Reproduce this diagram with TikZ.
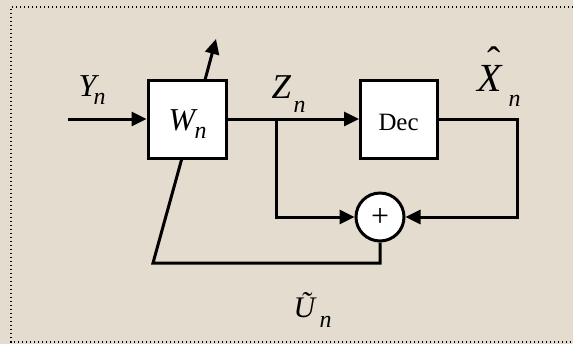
\documentclass[tikz,border=0pt]{standalone}
\usepackage{fontspec}
\setmainfont{Liberation Serif}
\usetikzlibrary{arrows.meta}
\definecolor{bg}{RGB}{227,220,207}
\begin{document}
\begin{tikzpicture}[x=1bp,y=-1bp,line width=3bp,
  blk/.style={draw,fill=white,minimum width=78bp,minimum height=78bp,inner sep=0pt},
  sumc/.style={draw,fill=white,circle,minimum size=48bp,inner sep=0pt,font=\fontsize{32}{32}\selectfont},
  arr/.style={-{Triangle[length=15bp,width=14bp]}},
  lbl/.style={font=\fontsize{32}{32}\selectfont\itshape,inner sep=0pt,anchor=base west},
  sub/.style={font=\fontsize{24}{24}\selectfont\itshape,inner sep=0pt,anchor=base west},
  frame/.style={line width=1.1bp,dash pattern=on 1.1bp off 2.9bp}]
\path[fill=bg] (0,0) rectangle (573,344);
\useasboundingbox (0,0) rectangle (573,344);
\draw[frame] (573,7) -- (11,7) -- (11,342) -- (573,342);
% blocks
\node[blk] (W) at (187,119) {};
\node[blk,minimum width=77bp] (D) at (399,119) {};
\node[sumc] (S) at (380,217) {+};
% coordinates
\coordinate (in) at (68,119);
\coordinate (J) at (276,119);
\coordinate (R) at (517,119);
\coordinate (B) at (153,263);
\coordinate (Wb) at (182,158);
\coordinate (Wt) at (205,80);
\coordinate (T) at (216,39);
% connectors
\draw[arr] (in) -- (W.west);
\draw (W.east) -- (J);
\draw[arr] (J) -- (D.west);
\draw[arr] (J) |- (S.west);
\draw[arr] (D.east) -- (R) |- (S.east);
\draw (S.south) |- (B) -- (Wb);
\draw[arr] (Wt) -- (T);
% labels
\node[lbl] (Y) at (77,96) {Y};
\node[sub] (Yn) at (92,104) {n};
\node[lbl] (Wl) at (167,130) {W};
\node[sub] (Wn) at (193,138) {n};
\node[lbl,font=\fontsize{35}{35}\selectfont\itshape] (Z) at (270,98) {Z};
\node[sub] (Zn) at (292,112) {n};
\node[inner sep=0pt,anchor=base west,font=\fontsize{25}{25}\selectfont] (Dec) at (377,130) {Dec};
\node[lbl,font=\fontsize{40}{40}\selectfont\itshape] (X) at (476,91) {\rlap{\hspace{10bp}\raisebox{17bp}{\upshape\symbol{"02C6}}}X};
\node[sub] (Xn) at (507,106) {n};
\node[lbl,font=\fontsize{30}{30}\selectfont\itshape] (U) at (292,317) {\~{U}};
\node[sub] (Un) at (318,327) {n};
\end{tikzpicture}
\end{document}
